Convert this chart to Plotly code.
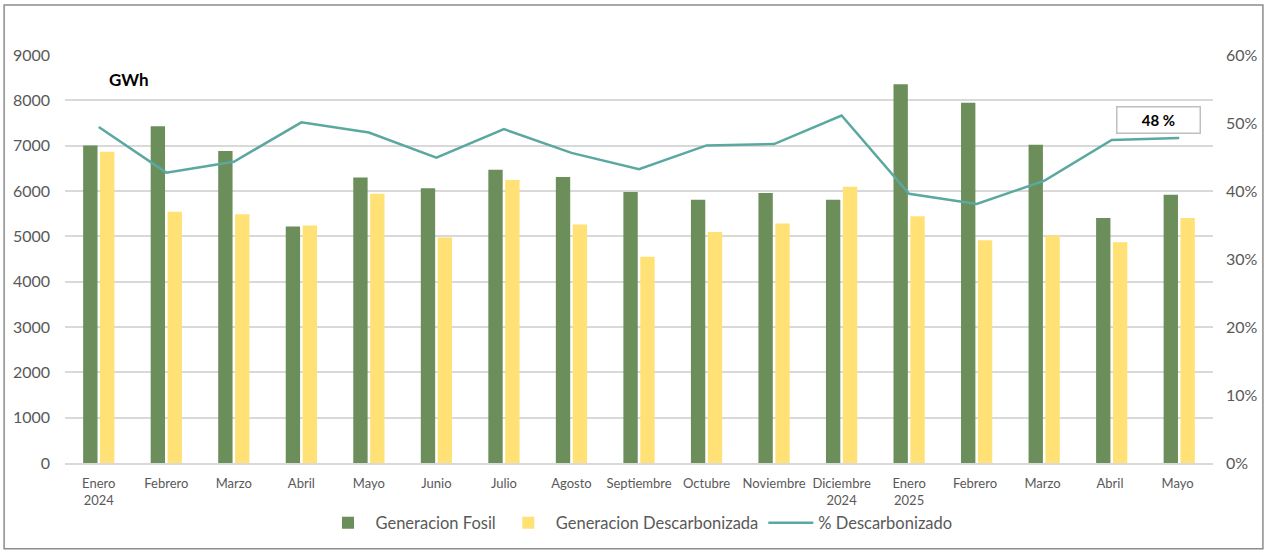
import plotly.graph_objects as go

categories = ["Enero<br>2024", "Febrero", "Marzo", "Abril", "Mayo", "Junio", "Julio", "Agosto",
              "Septiembre", "Octubre", "Noviembre", "Diciembre<br>2024", "Enero<br>2025",
              "Febrero ", "Marzo ", "Abril ", "Mayo "]
fosil = [7004, 7431, 6881, 5215, 6300, 6058, 6469, 6308, 5978, 5809, 5956, 5809, 8355, 7944, 7020, 5406, 5919]
descarbonizada = [6866, 5545, 5486, 5237, 5941, 4973, 6242, 5259, 4548, 5098, 5281, 6095, 5442, 4914, 5017, 4870, 5406]
pct_descarbonizado = [0.494, 0.427, 0.443, 0.501, 0.486, 0.449, 0.491, 0.456, 0.432, 0.467, 0.469, 0.511,
                      0.396, 0.381, 0.415, 0.475, 0.478]
left_ticks = [0, 1000, 2000, 3000, 4000, 5000, 6000, 7000, 8000, 9000]
right_ticks = [0, 0.1, 0.2, 0.3, 0.4, 0.5, 0.6]

FONT = "Lato, 'Open Sans', sans-serif"
GREY = "#595959"

fig = go.Figure()
fig.add_trace(go.Bar(x=categories, y=fosil, name="Generacion Fosil", marker_color="#6B8E5B",
                     marker_line_width=0))
fig.add_trace(go.Bar(x=categories, y=descarbonizada, name="Generacion Descarbonizada",
                     marker_color="#FFE176", marker_line_width=0))
fig.add_trace(go.Scatter(x=categories, y=pct_descarbonizado, name="% Descarbonizado", mode="lines",
                         line=dict(color="#5BA8A0", width=2.5), yaxis="y2"))

fig.update_layout(
    width=1270, height=552,
    margin=dict(l=65, r=55, t=55, b=88),
    paper_bgcolor="white", plot_bgcolor="white",
    font=dict(family=FONT, color=GREY, size=13),
    barmode="group", bargap=0.5, bargroupgap=0.15,
    showlegend=True,
    legend=dict(orientation="h", x=0.5, xanchor="center", y=-0.147, yanchor="middle",
                font=dict(size=16.5, color=GREY), traceorder="normal", itemwidth=45),
    xaxis=dict(showgrid=False, showline=True, linecolor="#d9d9d9", linewidth=1.5,
               tickfont=dict(size=13, color=GREY), ticks="", ticklabelstandoff=8,
               fixedrange=True),
    yaxis=dict(range=[0, 9000], tickvals=left_ticks, showgrid=True, gridcolor="#d9d9d9",
               gridwidth=1.5, zeroline=False, tickfont=dict(size=16, color=GREY),
               ticklabelstandoff=14, showline=False),
    yaxis2=dict(range=[0, 0.6], tickvals=right_ticks, tickformat=".0%", overlaying="y", side="right",
                showgrid=False, zeroline=False, tickfont=dict(size=16, color=GREY),
                ticklabelstandoff=12),
    annotations=[
        dict(text="<b>GWh</b>", xref="paper", yref="paper", x=(107 - 65) / 1150, y=(464 - 80) / 409,
             xanchor="left", yanchor="middle", showarrow=False, font=dict(size=17, color="black")),
        dict(text="<b>48 %</b>", xref="paper", yref="paper", x=(1160 - 65) / 1150, y=(464 - 120) / 409,
             xanchor="center", yanchor="middle", showarrow=False, font=dict(size=15, color="black"),
             bordercolor="#bfbfbf", borderwidth=1.5, borderpad=2, width=78, height=21, bgcolor="white"),
    ],
    shapes=[
        dict(type="rect", xref="paper", yref="paper",
             x0=(4 - 65) / 1150, x1=(1265 - 65) / 1150, y0=(464 - 550) / 409, y1=(464 - 5) / 409,
             line=dict(color="#8c8c8c", width=1.5), fillcolor="rgba(0,0,0,0)", layer="below"),
    ],
)

fig.write_html("out.html", config={"displayModeBar": False},
               post_script="document.body.style.margin='0';document.body.style.overflow='hidden';")
